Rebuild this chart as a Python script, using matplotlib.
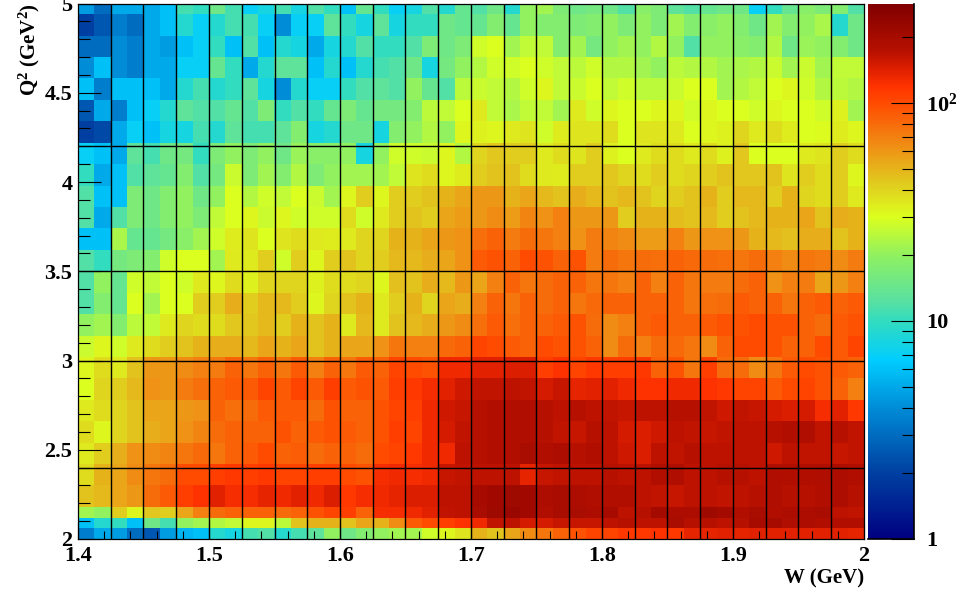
import numpy as np
import matplotlib
matplotlib.use("Agg")
import matplotlib.pyplot as plt
from matplotlib.colors import LogNorm, LinearSegmentedColormap

plt.rcParams["font.family"] = ["Liberation Serif", "DejaVu Serif"]
plt.rcParams["font.weight"] = "bold"
plt.rcParams["axes.labelweight"] = "bold"
plt.rcParams["mathtext.default"] = "regular"

# bin edges: W in 48 blocks, Q2 blocks merged by eye, three single rows at the bottom
w_edges = np.linspace(1.4, 2.0, 49)
q2_edges = [2.0, 2.06, 2.12] + [round(2.18 + 0.12 * i, 2) for i in range(24)] + [5.0]

# estimated counts, top row of the picture first, W from 1.4 to 1.6
counts_left = [
    [4.5, 3, 5, 5, 5, 6, 11, 10, 15, 11, 7, 8, 11, 8, 12, 10],
    [2, 2.5, 3.5, 3, 5, 6, 9, 7, 9, 11, 11, 7, 4, 7, 7, 13],
    [3, 3, 4, 3.5, 5, 4.5, 6, 7, 10, 6, 12, 6, 9, 8, 5, 8],
    [4, 6, 4, 3.5, 5, 5, 7, 7, 14, 10, 5, 9, 13, 13, 6, 9],
    [6, 3.5, 6, 6, 6, 5, 9, 11, 9, 10, 13, 8, 4, 9, 7, 7],
    [2.5, 5, 3.5, 6, 7, 9, 13, 12, 12, 14, 12, 17, 10, 12, 10, 14],
    [2, 2.2, 5, 7, 6, 8, 8, 11, 9, 13, 11, 11, 13, 18, 8, 9],
    [7, 6, 5, 13, 11, 15, 16, 10, 17, 20, 17, 20, 15, 21, 19, 19],
    [10, 5, 6, 12, 13, 14, 18, 12, 16, 27, 17, 22, 18, 24, 17, 20],
    [12, 6, 6, 17, 15, 18, 20, 15, 20, 30, 24, 28, 26, 30, 27, 22],
    [12, 5, 12, 17, 15, 18, 20, 17, 26, 30, 32, 27, 32, 28, 28, 28],
    [6, 6, 23, 14, 14, 16, 19, 22, 28, 34, 36, 30, 36, 38, 35, 34],
    [12, 10, 16, 17, 18, 28, 30, 30, 22, 35, 35, 42, 28, 42, 32, 42],
    [12, 20, 14, 28, 26, 30, 28, 35, 32, 38, 33, 40, 40, 40, 33, 38],
    [12, 18, 14, 30, 22, 30, 30, 42, 42, 52, 42, 48, 48, 42, 32, 40],
    [20, 22, 18, 25, 26, 35, 40, 38, 38, 44, 44, 48, 42, 50, 45, 50],
    [27, 32, 28, 35, 38, 42, 45, 50, 52, 52, 48, 55, 50, 55, 45, 50],
    [32, 38, 35, 45, 60, 60, 65, 70, 72, 85, 75, 85, 75, 90, 70, 85],
    [30, 40, 42, 48, 62, 60, 72, 78, 85, 90, 90, 105, 90, 105, 90, 110],
    [35, 38, 40, 45, 55, 55, 60, 62, 85, 78, 80, 90, 90, 90, 80, 95],
    [38, 32, 40, 45, 52, 55, 62, 68, 80, 85, 85, 85, 95, 85, 90, 95],
    [35, 42, 52, 62, 65, 68, 75, 82, 75, 85, 90, 100, 85, 88, 80, 85],
    [38, 50, 55, 65, 75, 80, 100, 100, 110, 115, 110, 115, 105, 105, 110, 110],
    [45, 48, 55, 60, 80, 90, 110, 120, 140, 125, 125, 135, 130, 140, 130, 145],
    [22, 20, 42, 32, 44, 42, 55, 70, 80, 85, 85, 85, 80, 85, 95, 105],
    [6, 9, 10, 6, 15, 11, 20, 22, 24, 26, 32, 32, 25, 45, 50, 50],
    [3.5, 5, 4.5, 3, 2.5, 4.5, 5.5, 6, 9, 8, 11, 12, 9, 11, 13, 20],
]

# W from 1.6 to 1.8
counts_mid = [
    [6, 14, 10, 7, 8, 12, 9, 14, 12, 15, 9, 20, 22, 17, 15, 16],
    [10, 8, 13, 8, 10, 10, 15, 14, 14, 18, 14, 20, 18, 18, 17, 18],
    [9, 12, 10, 10, 12, 17, 15, 17, 28, 30, 22, 26, 26, 18, 22, 16],
    [6, 9, 11, 12, 15, 8, 16, 20, 24, 28, 28, 30, 28, 26, 25, 28],
    [10, 12, 13, 12, 20, 14, 12, 25, 27, 26, 24, 28, 32, 26, 27, 30],
    [17, 14, 16, 16, 18, 25, 26, 30, 35, 26, 23, 26, 26, 22, 35, 28],
    [15, 15, 8, 18, 20, 24, 20, 32, 33, 32, 35, 36, 28, 34, 36, 36],
    [20, 8, 20, 28, 28, 27, 32, 24, 40, 44, 42, 42, 35, 38, 36, 42],
    [22, 22, 22, 26, 36, 38, 32, 34, 42, 45, 45, 38, 35, 34, 42, 42],
    [32, 42, 32, 42, 42, 45, 50, 55, 60, 60, 50, 55, 48, 45, 52, 48],
    [38, 28, 35, 42, 45, 42, 55, 58, 60, 65, 58, 68, 62, 70, 60, 60],
    [35, 40, 40, 50, 50, 55, 60, 62, 78, 85, 72, 80, 75, 70, 62, 72],
    [45, 40, 42, 48, 48, 52, 55, 62, 90, 95, 85, 100, 95, 85, 95, 72],
    [38, 40, 32, 46, 45, 52, 48, 60, 55, 70, 85, 75, 80, 85, 85, 75],
    [45, 50, 35, 42, 50, 40, 55, 52, 70, 85, 75, 85, 80, 85, 75, 82],
    [35, 48, 35, 45, 48, 52, 60, 65, 78, 90, 78, 85, 85, 90, 95, 80],
    [55, 55, 62, 75, 70, 70, 82, 85, 105, 100, 90, 85, 100, 95, 95, 85],
    [75, 90, 85, 105, 100, 95, 130, 130, 140, 140, 145, 145, 110, 120, 105, 115],
    [90, 95, 90, 110, 115, 125, 140, 155, 165, 165, 170, 165, 150, 160, 135, 140],
    [85, 85, 95, 105, 110, 130, 155, 160, 175, 180, 180, 185, 175, 170, 175, 170],
    [90, 85, 95, 110, 105, 130, 150, 165, 175, 180, 180, 185, 175, 165, 160, 175],
    [85, 80, 100, 105, 115, 130, 130, 170, 175, 180, 180, 195, 180, 190, 175, 180],
    [100, 95, 125, 130, 125, 130, 160, 165, 170, 170, 170, 135, 160, 165, 170, 170],
    [115, 125, 130, 135, 145, 145, 170, 170, 200, 210, 215, 210, 190, 195, 190, 185],
    [110, 85, 125, 125, 130, 140, 165, 170, 195, 215, 225, 210, 185, 195, 195, 190],
    [45, 55, 50, 65, 90, 100, 110, 120, 130, 165, 170, 150, 150, 160, 160, 160],
    [15, 18, 20, 22, 22, 28, 32, 36, 50, 45, 55, 65, 75, 85, 95, 105],
]

# W from 1.8 to 2.0
counts_right = [
    [15, 12, 19, 17, 13, 12, 14, 15, 15, 7, 10, 14, 19, 17, 18, 12],
    [20, 17, 20, 17, 22, 18, 19, 20, 18, 15, 22, 18, 20, 23, 9, 15],
    [20, 22, 20, 24, 20, 12, 20, 20, 19, 18, 24, 15, 21, 20, 18, 15],
    [24, 24, 22, 20, 25, 24, 24, 22, 23, 24, 27, 22, 27, 22, 26, 26],
    [26, 28, 25, 25, 27, 30, 30, 22, 24, 26, 30, 32, 28, 24, 25, 24],
    [32, 30, 30, 32, 32, 28, 32, 30, 30, 28, 32, 30, 30, 28, 33, 22],
    [38, 30, 36, 36, 35, 30, 32, 33, 40, 35, 38, 34, 30, 31, 34, 32],
    [33, 30, 35, 38, 38, 35, 38, 33, 44, 30, 30, 30, 35, 36, 42, 38],
    [44, 40, 38, 42, 38, 40, 42, 45, 44, 44, 45, 36, 42, 38, 42, 32],
    [45, 48, 45, 40, 42, 45, 50, 42, 48, 48, 42, 50, 40, 38, 42, 35],
    [60, 42, 50, 50, 47, 45, 48, 42, 45, 48, 50, 50, 55, 45, 52, 50],
    [68, 65, 58, 58, 70, 60, 62, 62, 60, 50, 48, 46, 52, 52, 45, 50],
    [80, 75, 80, 78, 85, 82, 80, 78, 75, 80, 70, 65, 75, 72, 65, 72],
    [75, 70, 85, 70, 85, 75, 72, 72, 80, 85, 62, 70, 72, 55, 60, 70],
    [85, 85, 85, 85, 85, 75, 78, 80, 90, 85, 85, 75, 85, 90, 85, 90],
    [65, 70, 85, 90, 85, 85, 90, 95, 95, 100, 95, 95, 85, 80, 90, 95],
    [65, 80, 70, 80, 82, 75, 65, 85, 100, 100, 95, 85, 85, 100, 90, 105],
    [110, 110, 115, 85, 95, 75, 110, 80, 80, 65, 75, 90, 100, 95, 90, 85],
    [140, 130, 120, 120, 130, 130, 120, 115, 105, 105, 90, 100, 105, 95, 85, 70],
    [165, 160, 170, 170, 175, 175, 165, 155, 165, 160, 150, 145, 150, 125, 140, 115],
    [170, 150, 145, 155, 170, 165, 160, 165, 170, 170, 175, 180, 185, 165, 175, 165],
    [170, 155, 145, 170, 165, 175, 170, 170, 170, 170, 155, 170, 165, 165, 160, 165],
    [175, 170, 170, 180, 185, 170, 170, 175, 175, 170, 185, 180, 180, 185, 190, 180],
    [180, 180, 170, 165, 160, 170, 170, 165, 170, 175, 185, 175, 175, 180, 190, 175],
    [200, 170, 175, 205, 190, 190, 215, 205, 180, 195, 180, 190, 190, 195, 170, 165],
    [170, 175, 170, 170, 195, 175, 175, 170, 175, 200, 200, 185, 190, 180, 180, 180],
    [105, 115, 115, 120, 115, 135, 135, 140, 135, 140, 140, 140, 140, 140, 140, 135],
]

counts = np.hstack([counts_left, counts_mid, counts_right])[::-1]

w_lines = [1.425, 1.45, 1.475, 1.5, 1.525, 1.55, 1.575, 1.6, 1.625, 1.65, 1.675, 1.7,
           1.725, 1.75, 1.775, 1.8, 1.825, 1.85, 1.875, 1.9, 1.925, 1.95, 1.975]
q2_lines = [2.4, 3.0, 3.5, 4.2]

w_ticks = [1.4, 1.5, 1.6, 1.7, 1.8, 1.9, 2.0]
w_labels = ["1.4", "1.5", "1.6", "1.7", "1.8", "1.9", "2"]
q2_ticks = [2, 2.5, 3, 3.5, 4, 4.5, 5]
q2_labels = ["2", "2.5", "3", "3.5", "4", "4.5", "5"]

# palette: (decades above 1, rgb)
vmax = 286
palette = [(0, (0, 0, 128)), (0.33, (0, 70, 165)), (0.6, (0, 140, 215)), (0.82, (0, 205, 255)),
           (1.0, (50, 220, 190)), (1.096, (90, 225, 160)), (1.29, (140, 240, 100)),
           (1.477, (220, 255, 30)), (1.64, (225, 200, 30)), (1.81, (240, 140, 20)),
           (2.0, (255, 75, 0)), (2.08, (255, 50, 0)), (2.16, (220, 30, 0)),
           (2.25, (180, 15, 0)), (np.log10(vmax), (128, 0, 0))]
cmap = LinearSegmentedColormap.from_list(
    "root_jet",
    [(d / np.log10(vmax), tuple(c / 255 for c in rgb)) for d, rgb in palette],
    N=512,
)
norm = LogNorm(vmin=1, vmax=vmax)

fig = plt.figure(figsize=(9.6, 5.94), dpi=100)
ax = fig.add_axes([78 / 960, 55 / 594, 786 / 960, 535.5 / 594])
mesh = ax.pcolormesh(w_edges, q2_edges, counts, cmap=cmap, norm=norm, edgecolors="none")

for w in w_lines:
    ax.axvline(w, color="black", lw=1.0)
for q in q2_lines:
    ax.axhline(q, color="black", lw=1.0)

ax.set_xlim(1.4, 2.0)
ax.set_ylim(2, 5)
ax.set_xticks(w_ticks, w_labels, fontsize=16)
ax.set_yticks(q2_ticks, q2_labels, fontsize=16)
ax.set_xticks(np.arange(1.4, 2.0, 0.02), minor=True)
ax.set_yticks(np.arange(2, 5, 0.1), minor=True)
ax.tick_params(axis="x", which="major", direction="in", length=11.5, width=0.8, pad=5, zorder=5)
ax.tick_params(axis="x", which="minor", direction="in", length=5.8, width=0.8)
ax.tick_params(axis="y", which="major", direction="in", length=16.5, width=0.8, pad=4)
ax.tick_params(axis="y", which="minor", direction="in", length=8.3, width=0.8)
for spine in ax.spines.values():
    spine.set_linewidth(0.9)

ax.set_xlabel("W (GeV)", fontsize=15, loc="right", labelpad=2)
ax.set_ylabel("Q$^{2}$ (GeV$^{2}$)", fontsize=15, loc="top", labelpad=2)

cax = fig.add_axes([868 / 960, 55 / 594, 46 / 960, 535.5 / 594])
cbar = fig.colorbar(mesh, cax=cax)
cbar.outline.set_visible(False)
cax.axvline(1, color="black", lw=1.2, clip_on=False)
cax.axhline(1, color="black", lw=1.2, clip_on=False)
cax.set_yticks([1, 10, 100], ["1", "10", "10$^{2}$"], fontsize=16)
minor = [m * d for d in (1, 10, 100) for m in range(2, 10) if m * d < vmax]
cax.set_yticks(minor, minor=True)
cax.set_yticklabels([], minor=True)
cax.tick_params(axis="y", which="major", direction="in", length=16.5, width=0.8, pad=9, right=True)
cax.tick_params(axis="y", which="minor", direction="in", length=8.3, width=0.8, right=True)

fig.savefig("out.png", dpi=100)
